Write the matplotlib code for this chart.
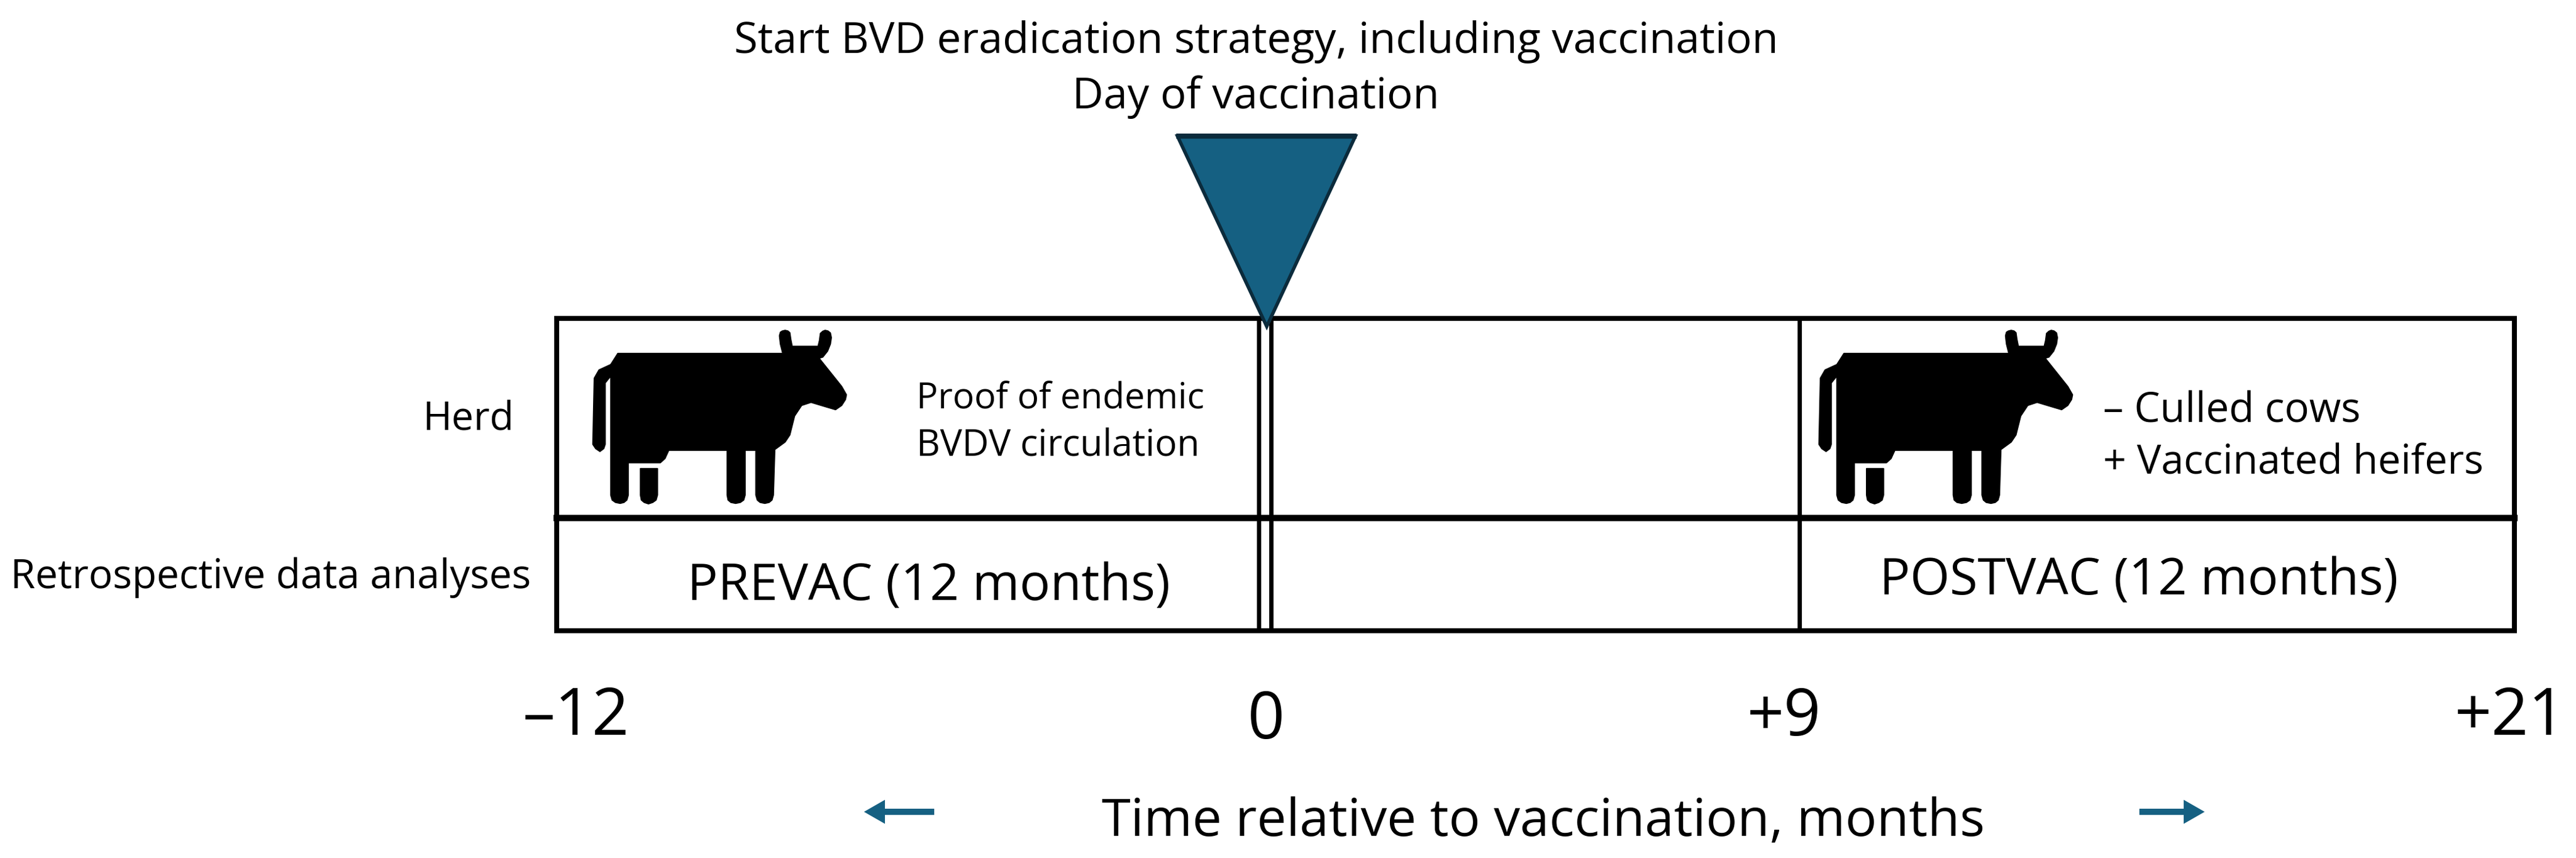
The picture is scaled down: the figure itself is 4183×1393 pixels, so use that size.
# Timeline of the BVD vaccination study design
import numpy as np
import matplotlib
matplotlib.use('Agg')
import matplotlib.pyplot as plt
from matplotlib.patches import Polygon

plt.rcParams['font.family'] = ['Open Sans', 'DejaVu Sans']

# Chart content
months = [-12, 0, 9, 21]
month_labels = ['–12', '0', '+9', '+21']
row_labels = ['Herd', 'Retrospective data analyses']
period_labels = ['PREVAC (12 months)', 'POSTVAC (12 months)']
title_lines = ['Start BVD eradication strategy, including vaccination', 'Day of vaccination']
note_before = ['Proof of endemic', 'BVDV circulation']
note_after = ['– Culled cows', '+ Vaccinated heifers']
xlabel = 'Time relative to vaccination, months'

# Cow icon outline
cow_x = [135, 485, 480, 478, 480, 484, 490, 496, 500, 502, 505, 560, 563, 565, 570, 575, 581, 586, 588, 586, 580, 570, 562,
         610, 620, 618, 610, 597, 575, 545, 525, 510, 500, 490, 468,
         465, 462, 456, 447, 437, 431, 428, 428, 405, 405, 402, 395, 385, 375, 369, 367, 367, 243, 235, 225, 157, 157, 154, 148, 140, 130, 123, 120, 120,
         108, 108, 105, 97, 88, 82, 85, 95, 120]
cow_y = [245, 245, 205, 170, 155, 150, 147, 150, 157, 185, 215, 215, 190, 160, 151, 147, 150, 158, 178, 205, 235, 260, 265,
         385, 420, 440, 465, 483, 470, 452, 465, 510, 590, 620, 652,
         845, 866, 876, 880, 876, 866, 845, 655, 655, 845, 866, 876, 880, 876, 866, 845, 655, 655, 690, 708, 708, 845, 866, 876, 880, 876, 866, 845, 340,
         370, 630, 648, 660, 648, 630, 350, 315, 292]
teat_x = [183, 219, 219, 216, 209, 200, 191, 185, 183]
teat_y = [733, 733, 845, 866, 876, 882, 876, 866, 845]

BLUE = '#156082'
DARK = '#0b2b3c'

fig = plt.figure(figsize=(41.83, 13.93), dpi=100)
ax = fig.add_axes([0, 0, 1, 1])
ax.set_xlim(0, 4183)
ax.set_ylim(1393, 0)
ax.axis('off')

# Month to pixel position along the timeline
def month_x(m):
    return np.interp(m, months, [904, 2054, 2922, 4083])

left, zero, nine, right = [month_x(m) for m in months]
top, mid, bottom = 517, 841, 1024

# Boxes
ax.plot([left, right, right, left, left], [top, top, bottom, bottom, top], color='black', lw=5.8, solid_joinstyle='miter')
ax.plot([left, right], [mid, mid], color='black', lw=7.5)
for x in [zero - 10, zero + 10, nine]:
    ax.plot([x, x], [top, bottom], color='black', lw=5)

# Vaccination triangle
ax.add_patch(Polygon([(1912, 221), (2201, 221), (zero + 3, 530)], closed=True, facecolor=BLUE, edgecolor=DARK, lw=4, joinstyle='miter', zorder=5))
ax.plot([1910, 2203], [221, 221], color=DARK, lw=6, zorder=6, solid_capstyle='butt')

# Cows
for ox in [900, 2891]:
    ax.fill(ox + np.array(cow_x) / 1.307, 480 + np.array(cow_y) / 2.61, color='black', lw=1.5, joinstyle='round')
    ax.fill(ox + np.array(teat_x) / 1.307, 480 + np.array(teat_y) / 2.61, color='black', lw=1.5, joinstyle='round')

# Texts
ax.text(2040, 86, title_lines[0], fontsize=50.3, ha='center', va='baseline')
ax.text(2039, 176, title_lines[1], fontsize=50.5, ha='center', va='baseline')
ax.text(761, 698, row_labels[0], fontsize=46, ha='center', va='baseline')
ax.text(440, 955, row_labels[1], fontsize=47, ha='center', va='baseline')
ax.text(1488, 664, note_before[0], fontsize=42, ha='left', va='baseline')
ax.text(1488, 740, note_before[1], fontsize=43, ha='left', va='baseline')
ax.text(3415, 685, note_after[0], fontsize=48, ha='left', va='baseline')
ax.text(3415, 769, note_after[1], fontsize=47.5, ha='left', va='baseline')
ax.text(1508, 974, period_labels[0], fontsize=59.6, ha='center', va='baseline')
ax.text(3473, 965, period_labels[1], fontsize=59.6, ha='center', va='baseline')

tick_x = [935, 2056, 2897, 4076]
tick_y = [1193, 1199, 1194, 1193]
for x, y, label in zip(tick_x, tick_y, month_labels):
    ax.text(x, y, label, fontsize=76, ha='center', va='baseline')
ax.text(2506, 1357, xlabel, fontsize=61.3, ha='center', va='baseline')

# Direction arrows
head = dict(width=10, head_width=39, head_length=34, length_includes_head=True, color=BLUE, lw=0)
ax.arrow(1517, 1318, 1403 - 1517, 0, **head)
ax.arrow(3474, 1318, 3580 - 3474, 0, **head)

plt.savefig('out.png', dpi=100)
